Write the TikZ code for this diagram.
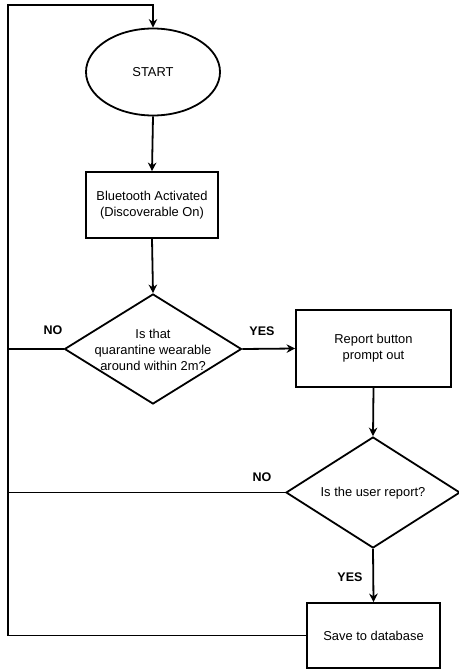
\documentclass[tikz,border=0pt]{standalone}
\usepackage{fontspec}
\setmainfont{Liberation Sans}
\usetikzlibrary{shapes.geometric,arrows.meta}
\begin{document}
\begin{tikzpicture}[x=1pt,y=-1pt,
  every node/.style={font=\fontsize{12.9}{15.8}\selectfont},
  box/.style={draw,line width=1.8pt,inner sep=0pt,align=center},
  dia/.style={draw,diamond,line width=1.8pt,inner sep=0pt},
  txt/.style={align=center,inner sep=0pt},
  lbl/.style={font=\fontsize{12.5}{14}\selectfont\bfseries,inner sep=0pt},
  ln/.style={line width=1.8pt},
  arr/.style={line width=1.8pt,-{Stealth[length=8.5pt,width=8.5pt]}}]
\useasboundingbox (0,0) rectangle (458,671);
\node[box,ellipse,minimum width=134pt,minimum height=87pt] (start) at (153,72) {START};
\node[box,minimum width=132pt,minimum height=66pt] (bt) at (152,205) {Bluetooth Activated\\(Discoverable On)};
\node[dia,minimum width=177pt,minimum height=110pt] (d1) at (153,349) {};
\node[txt] (d1t) at (153,350) {Is that\\quarantine wearable\\around within 2m?};
\node[box,minimum width=155pt,minimum height=77pt] (rep) at (373.5,348.5) {Report button\\prompt out};
\node[dia,minimum width=174pt,minimum height=111pt] (d2) at (373,492.5) {};
\node[txt] (d2t) at (373,493) {Is the user report?};
\node[box,minimum width=133pt,minimum height=65pt] (save) at (373.5,635.5) {Save to database};
\coordinate (lb) at (8,635.5);
\coordinate (lt) at (8,5);
\coordinate (n1) at (8,349);
\coordinate (n2) at (8,492.5);
\draw[arr] (start.south) -- (bt.north);
\draw[arr] (bt.south) -- (d1.north);
\draw[arr] (d1.east) -- (rep.west);
\draw[arr] (rep.south) -- (d2.north);
\draw[arr] (d2.south) -- (save.north);
\draw[ln] (d1.west) -- (n1);
\draw[ln] (d2.west) -- (n2);
\draw[arr] (save.west) -- (lb) -- (lt) -| (start.north);
\node[lbl] (no1) at (53,330) {NO};
\node[lbl] (yes1) at (262,331) {YES};
\node[lbl] (no2) at (262,477) {NO};
\node[lbl] (yes2) at (350,577) {YES};
\end{tikzpicture}
\end{document}
